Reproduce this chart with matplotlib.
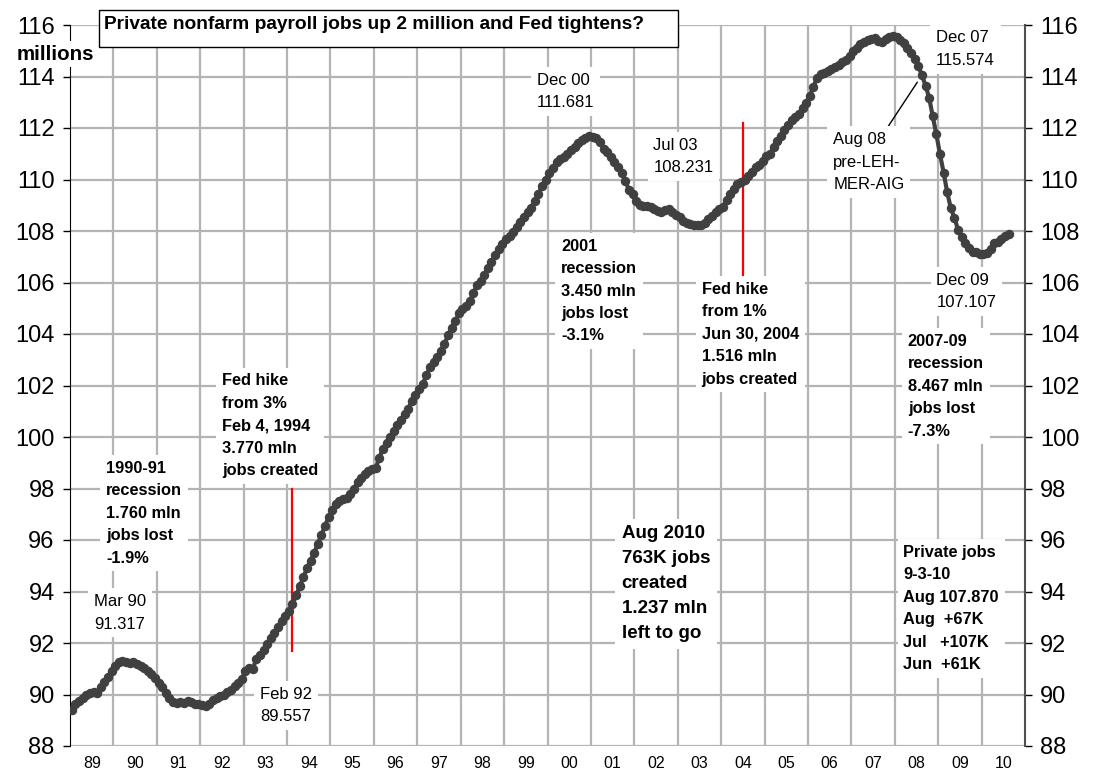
import matplotlib
matplotlib.use("Agg")
import matplotlib.pyplot as plt
import matplotlib.patches as patches
import numpy as np

plt.rcParams['font.family'] = ['Liberation Sans', 'DejaVu Sans']

# private nonfarm payrolls, millions, monthly Jan 1989 - Aug 2010
jobs_by_year = {
    1989: [89.40, 89.62, 89.75, 89.88, 89.98, 90.06, 90.10, 90.06, 90.30, 90.48, 90.68, 90.90],
    1990: [91.12, 91.28, 91.317, 91.25, 91.24, 91.28, 91.20, 91.12, 91.03, 90.92, 90.78, 90.64],
    1991: [90.45, 90.28, 90.05, 89.85, 89.72, 89.68, 89.70, 89.66, 89.74, 89.72, 89.64, 89.62],
    1992: [89.59, 89.557, 89.65, 89.78, 89.87, 89.94, 89.98, 90.08, 90.17, 90.32, 90.45, 90.62],
    1993: [90.92, 91.02, 90.98, 91.38, 91.55, 91.72, 91.95, 92.18, 92.40, 92.62, 92.85, 93.05],
    1994: [93.25, 93.50, 93.85, 94.20, 94.55, 94.90, 95.20, 95.50, 95.85, 96.20, 96.55, 96.90],
    1995: [97.15, 97.40, 97.50, 97.58, 97.62, 97.80, 98.00, 98.25, 98.42, 98.58, 98.68, 98.76],
    1996: [98.78, 99.20, 99.55, 99.78, 100.00, 100.25, 100.45, 100.65, 100.90, 101.10, 101.40, 101.62],
    1997: [101.85, 102.05, 102.40, 102.70, 102.90, 103.10, 103.35, 103.60, 103.95, 104.25, 104.50, 104.80],
    1998: [104.98, 105.10, 105.28, 105.60, 105.90, 106.05, 106.30, 106.55, 106.80, 107.05, 107.30, 107.50],
    1999: [107.70, 107.82, 107.95, 108.17, 108.35, 108.55, 108.72, 108.90, 109.18, 109.45, 109.75, 110.00],
    2000: [110.25, 110.45, 110.68, 110.80, 110.88, 111.00, 111.15, 111.28, 111.40, 111.52, 111.62, 111.681],
    2001: [111.66, 111.60, 111.45, 111.20, 111.05, 110.88, 110.68, 110.50, 110.25, 109.95, 109.60, 109.42],
    2002: [109.15, 109.02, 108.98, 108.96, 108.92, 108.85, 108.76, 108.75, 108.80, 108.84, 108.72, 108.62],
    2003: [108.55, 108.40, 108.32, 108.27, 108.24, 108.24, 108.231, 108.30, 108.45, 108.60, 108.72, 108.85],
    2004: [108.95, 109.20, 109.45, 109.65, 109.82, 109.90, 110.00, 110.12, 110.30, 110.50, 110.58, 110.72],
    2005: [110.90, 111.00, 111.25, 111.50, 111.70, 111.92, 112.12, 112.30, 112.42, 112.55, 112.78, 112.98],
    2006: [113.25, 113.60, 113.95, 114.08, 114.15, 114.22, 114.30, 114.38, 114.45, 114.55, 114.65, 114.80],
    2007: [114.98, 115.12, 115.25, 115.35, 115.42, 115.47, 115.50, 115.38, 115.35, 115.45, 115.55, 115.574],
    2008: [115.53, 115.42, 115.32, 115.12, 114.92, 114.68, 114.42, 114.05, 113.65, 113.18, 112.45, 111.75],
    2009: [110.98, 110.27, 109.50, 108.88, 108.50, 108.05, 107.78, 107.55, 107.35, 107.20, 107.18, 107.107],
    2010: [107.12, 107.14, 107.30, 107.54, 107.59, 107.696, 107.803, 107.870],
}

years = list(range(1989, 2011))
year_labels = ["%02d" % (y % 100) for y in years]

dates = []
jobs = []
for yr in years:
    for m, v in enumerate(jobs_by_year[yr]):
        dates.append(yr + (m + 0.5) / 12.0)
        jobs.append(v)
dates = np.array(dates)
jobs = np.array(jobs)

def month_x(yr, m):
    return yr + (m - 1 + 0.5) / 12.0

# fed hikes: Feb 4 1994, Jun 30 2004
hike_x = [month_x(1994, 2), 2004.5]
hike_lo = [91.7, 106.2]
hike_hi = [98.0, 112.2]

fig, ax = plt.subplots(figsize=(10.98, 7.72), dpi=100)
fig.subplots_adjust(left=70/1098, right=1025/1098, bottom=26/772, top=747/772)

ax.set_xlim(1989, 2011)
ax.set_ylim(88, 116)
ax.set_yticks(np.arange(88, 117, 2))
ax.set_xticks(years[1:])
ax.set_xticks([y + 0.5 for y in years], minor=True)
ax.set_xticklabels([])
ax.set_xticklabels(year_labels, minor=True)
ax.tick_params(axis='x', which='both', length=0, labelsize=11.5, pad=7)
ax.tick_params(axis='y', direction='out', length=5, width=1, labelsize=17,
               pad=6, right=True, labelright=True)

ax.set_axisbelow(True)
ax.grid(True, which='major', color='#b4b4b4', lw=1.6)
for s in ['top', 'bottom']:
    ax.spines[s].set_visible(False)
ax.spines['left'].set_color('black')
ax.spines['right'].set_color('#505050')
ax.spines['right'].set_linewidth(1.5)

ax.plot(dates, jobs, '-o', color='#404040', lw=3, ms=5.8, zorder=5)

for hx, lo, hi in zip(hike_x, hike_lo, hike_hi):
    ax.plot([hx, hx], [lo, hi], color='red', lw=1.6, zorder=2)

box = dict(boxstyle='square,pad=0.35', fc='white', ec='none')

notes = [
    (1989.55, 93.90, "Mar 90\n91.317", 'normal', 12),
    (1993.38, 90.29, "Feb 92\n89.557", 'normal', 12),
    (1989.83, 99.07, "1990-91\nrecession\n1.760 mln\njobs lost\n-1.9%", 'bold', 11.8),
    (1992.50, 102.47, "Fed hike\nfrom 3%\nFeb 4, 1994\n3.770 mln\njobs created", 'bold', 11.8),
    (1999.76, 114.14, "Dec 00\n111.681", 'normal', 12),
    (2000.31, 107.70, "2001\nrecession\n3.450 mln\njobs lost\n-3.1%", 'bold', 11.8),
    (2002.44, 111.62, "Jul 03\n108.231", 'normal', 12),
    (2003.55, 106.02, "Fed hike\nfrom 1%\nJun 30, 2004\n1.516 mln\njobs created", 'bold', 11.8),
    (2008.95, 115.79, "Dec 07\n115.574", 'normal', 12),
    (2008.96, 106.37, "Dec 09\n107.107", 'normal', 12),
    (2008.30, 104.00, "2007-09\nrecession\n8.467 mln\njobs lost\n-7.3%", 'bold', 11.8),
    (2001.71, 96.58, "Aug 2010\n763K jobs\ncreated\n1.237 mln\nleft to go", 'bold', 13.5),
    (2008.20, 95.81, "Private jobs\n9-3-10\nAug 107.870\nAug  +67K\nJul   +107K\nJun  +61K", 'bold', 11.8),
]
for x, y, txt, w, sz in notes:
    ax.text(x, y, txt, ha='left', va='top', fontsize=sz, fontweight=w,
            linespacing=1.62, bbox=box, zorder=3)

# Aug 08 pointer
i_aug08 = list(dates).index(month_x(2008, 8))
ax.annotate("Aug 08\npre-LEH-\nMER-AIG", xy=(dates[i_aug08], jobs[i_aug08]),
            xytext=(2006.58, 111.84), ha='left', va='top', fontsize=12,
            linespacing=1.62, bbox=box, zorder=3,
            arrowprops=dict(arrowstyle='-', color='black', lw=1,
                            relpos=(0.72, 1.0), shrinkA=0, shrinkB=6))

# title box
ax.add_patch(patches.Rectangle((0.0304, 0.9695), 0.606, 0.0513, transform=ax.transAxes,
                               fc='white', ec='black', lw=1, clip_on=False, zorder=6))
ax.text(0.0356, 0.994, "Private nonfarm payroll jobs up 2 million and Fed tightens?",
        transform=ax.transAxes, ha='left', va='baseline', fontsize=13.8,
        fontweight='bold', zorder=7)

fig.text(17/1098, 1 - 59.5/772, "millions", ha='left', va='baseline', fontsize=14.8,
         fontweight='bold', bbox=dict(boxstyle='square,pad=0.15', fc='white', ec='none'))

plt.savefig("out.png", dpi=100)
